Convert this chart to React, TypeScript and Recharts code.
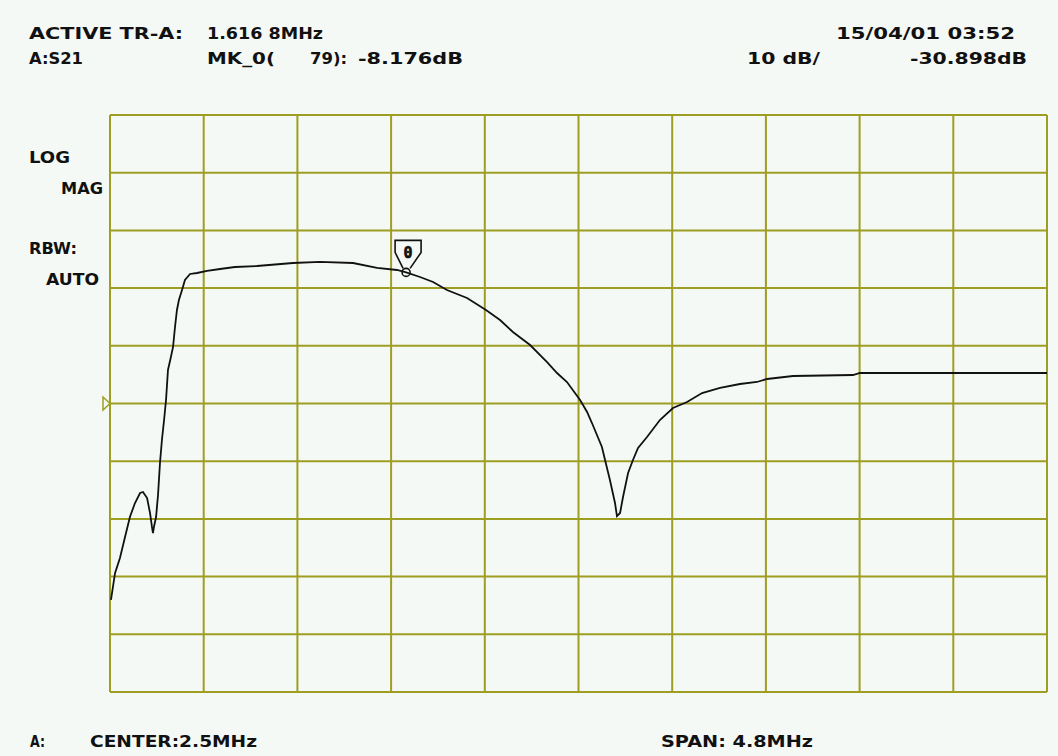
import { LineChart, Line, XAxis, YAxis, CartesianGrid, ReferenceDot } from 'recharts';

// trace (MHz, dB)
const freqMHz = [
  0.105, 0.126, 0.151, 0.177, 0.202, 0.228, 0.254, 0.269, 0.29, 0.305, 0.315, 0.32, 0.325, 0.336,
  0.346, 0.356, 0.366, 0.377, 0.387, 0.397, 0.412, 0.423, 0.433, 0.443, 0.453, 0.469, 0.484, 0.51,
  0.546, 0.597, 0.664, 0.74, 0.853, 1.037, 1.176, 1.345, 1.468, 1.57, 1.617, 1.688, 1.755, 1.826,
  1.929, 2.026, 2.098, 2.164, 2.252, 2.339, 2.39, 2.441, 2.508, 2.544, 2.569, 2.62, 2.636, 2.661,
  2.687, 2.697, 2.713, 2.728, 2.754, 2.779, 2.805, 2.851, 2.917, 2.984, 3.056, 3.133, 3.225, 3.327,
  3.414, 3.466, 3.599, 3.906, 3.942, 4.9,
];
const magDb = [
  -64.95, -60.27, -57.67, -54.03, -50.57, -48.14, -46.41, -46.23, -47.28, -49.87, -52.3, -53.34, -52.3, -50.57,
  -46.76, -41.21, -37.22, -33.76, -30.29, -25.09, -22.84, -21.1, -17.64, -14.69, -12.96, -11.23, -9.49, -8.45,
  -8.28, -7.93, -7.59, -7.24, -7.07, -6.55, -6.37, -6.55, -7.41, -7.76, -8.18, -8.97, -9.84, -11.23,
  -12.61, -14.69, -16.43, -18.51, -20.76, -23.71, -25.61, -27.17, -30.29, -32.37, -34.28, -38.44, -40.69, -44.16,
  -48.14, -50.4, -49.87, -47.1, -42.94, -40.69, -38.61, -36.71, -33.76, -31.68, -30.64, -29.08, -28.21, -27.52,
  -27.17, -26.65, -26.13, -25.96, -25.61, -25.61,
];

const freqTicks = [0.1, 0.58, 1.06, 1.54, 2.02, 2.5, 2.98, 3.46, 3.94, 4.42, 4.9];
const dbTicks = [-80.898, -70.898, -60.898, -50.898, -40.898, -30.898, -20.898, -10.898, -0.898, 9.102, 19.102];

const markerFreq = 1.6168;
const markerDb = -8.176;
const refLevelDb = -30.898;

const data = freqMHz.map((f, i) => ({ f, db: magDb[i] }));

const GRID = '#9e9e22';
const INK = '#111111';
const font = { fontFamily: '"DejaVu Sans", sans-serif', fontWeight: 700, fontSize: 16 };

const labels: { t: string; x: number; y: number; w: number }[] = [
  { t: 'ACTIVE TR-A:', x: 29, y: 39, w: 154 },
  { t: '1.616 8MHz', x: 207, y: 39, w: 116 },
  { t: '15/04/01 03:52', x: 836, y: 39, w: 179 },
  { t: 'A:S21', x: 29, y: 64, w: 54 },
  { t: 'MK_0(', x: 207, y: 64, w: 68 },
  { t: '79):', x: 310, y: 64, w: 37 },
  { t: '-8.176dB', x: 358, y: 64, w: 105 },
  { t: '10 dB/', x: 747, y: 64, w: 73 },
  { t: '-30.898dB', x: 910, y: 64, w: 117 },
  { t: 'LOG', x: 29, y: 163, w: 41 },
  { t: 'MAG', x: 61, y: 194, w: 42 },
  { t: 'RBW:', x: 29, y: 254, w: 48 },
  { t: 'AUTO', x: 46, y: 285, w: 53 },
  { t: 'A:', x: 30, y: 747, w: 15 },
  { t: 'CENTER:2.5MHz', x: 90, y: 747, w: 167 },
  { t: 'SPAN: 4.8MHz', x: 661, y: 747, w: 152 },
];

function MarkerShape(props: any) {
  const { cx, cy } = props;
  return (
    <g>
      <path
        d={`M${cx - 3},${cy - 4} L${cx - 11},${cy - 20} V${cy - 32} H${cx + 15} V${cy - 20} L${cx + 4},${cy - 4}`}
        fill="none"
        stroke={INK}
        strokeWidth={1.6}
      />
      <circle cx={cx} cy={cy} r={4} fill="none" stroke={INK} strokeWidth={1.6} />
      <text
        x={cx + 2}
        y={cy - 14}
        textAnchor="middle"
        style={{ ...font, fontFamily: '"DejaVu Sans Mono", monospace', fontSize: 15 }}
        fill={INK}
        stroke={INK}
        strokeWidth={0.6}
      >
        0
      </text>
    </g>
  );
}

function RefShape(props: any) {
  const { cx, cy } = props;
  return (
    <path
      d={`M${cx - 7},${cy - 6.5} L${cx},${cy} L${cx - 7},${cy + 6.5} Z`}
      fill="none"
      stroke={GRID}
      strokeWidth={1.5}
    />
  );
}

export default function App() {
  return (
    <div style={{ position: 'absolute', left: 0, top: 0, width: 1058, height: 756, background: '#f5f9f5' }}>
      <LineChart width={1058} height={756} data={data} margin={{ top: 115, right: 11, bottom: 64, left: 110 }}>
        <CartesianGrid stroke={GRID} strokeWidth={2} />
        <XAxis dataKey="f" type="number" domain={[0.1, 4.9]} ticks={freqTicks} hide />
        <YAxis type="number" domain={[-80.898, 19.102]} ticks={dbTicks} hide />
        <Line
          type="linear"
          dataKey="db"
          stroke={INK}
          strokeWidth={1.8}
          dot={false}
          isAnimationActive={false}
        />
        <ReferenceDot x={0.1} y={refLevelDb} shape={RefShape} ifOverflow="visible" />
        <ReferenceDot x={markerFreq} y={markerDb} shape={MarkerShape} ifOverflow="visible" />
      </LineChart>
      <svg
        width={1058}
        height={756}
        style={{ position: 'absolute', left: 0, top: 0, pointerEvents: 'none' }}
      >
        {labels.map((l) => (
          <text
            key={l.t}
            x={l.x}
            y={l.y}
            textLength={l.w}
            lengthAdjust="spacingAndGlyphs"
            style={font}
            fill={INK}
          >
            {l.t}
          </text>
        ))}
      </svg>
    </div>
  );
}
